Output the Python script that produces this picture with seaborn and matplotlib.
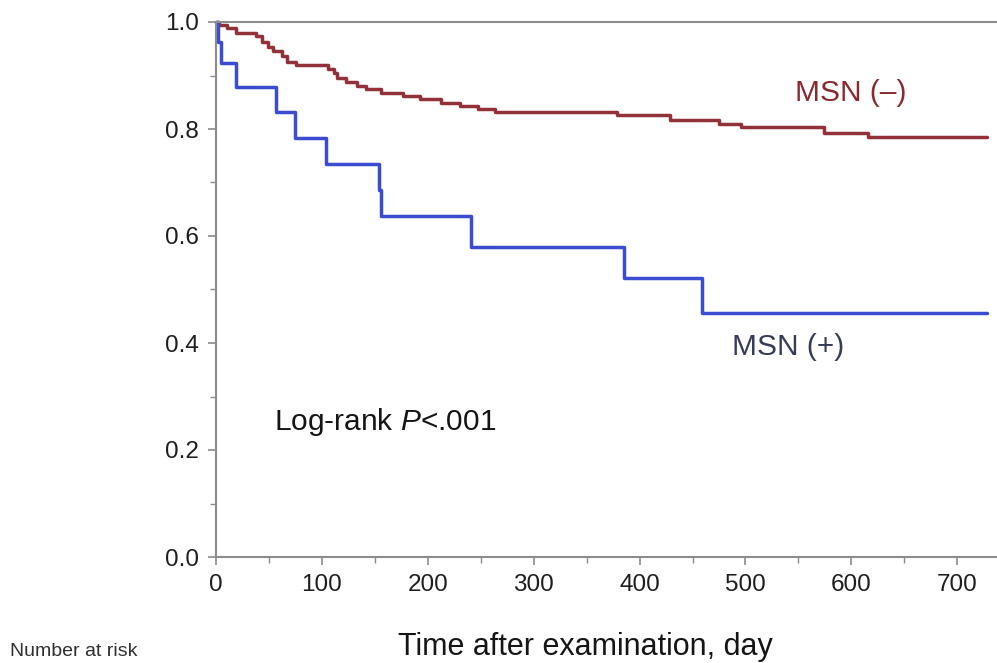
import numpy as np
import pandas as pd
import matplotlib
matplotlib.use("Agg")
import matplotlib.pyplot as plt
from matplotlib.ticker import MultipleLocator
import seaborn as sns

# Kaplan-Meier step points: (day, survival) at each event
msn_pos_days = [0, 2, 5, 19, 57, 75, 104, 154, 156, 241, 385, 459, 728]
msn_pos_surv = [1.0, 0.963, 0.923, 0.879, 0.832, 0.784, 0.735, 0.686, 0.637,
                0.580, 0.522, 0.457, 0.457]

msn_neg_days = [0, 3, 10, 19, 38, 43, 49, 54, 62, 67, 76, 106, 111, 114, 123,
                133, 142, 156, 177, 193, 212, 230, 247, 263, 379, 429, 475,
                496, 574, 616, 728]
msn_neg_surv = [1.0, 0.994, 0.988, 0.979, 0.973, 0.963, 0.954, 0.945, 0.936,
                0.926, 0.920, 0.913, 0.904, 0.895, 0.887, 0.880, 0.874, 0.868,
                0.862, 0.856, 0.849, 0.843, 0.838, 0.832, 0.826, 0.816, 0.810,
                0.803, 0.793, 0.785, 0.785]

group_labels = ["MSN (–)", "MSN (+)"]
x_ticks = [0, 100, 200, 300, 400, 500, 600, 700]
y_ticks = [0.0, 0.2, 0.4, 0.6, 0.8, 1.0]

sns.set_theme(style="ticks")
plt.rcParams["font.family"] = ["Liberation Sans", "DejaVu Sans"]
plt.rcParams["mathtext.fontset"] = "custom"
plt.rcParams["mathtext.it"] = "Liberation Sans:italic"
plt.rcParams["mathtext.rm"] = "Liberation Sans"

df = pd.concat([
    pd.DataFrame({"day": msn_neg_days, "surv": msn_neg_surv, "group": group_labels[0]}),
    pd.DataFrame({"day": msn_pos_days, "surv": msn_pos_surv, "group": group_labels[1]}),
])

red = "#92313a"
blue = "#3b4bd2"

fig = plt.figure(figsize=(9.97, 6.63), dpi=100)
ax = fig.add_axes([216 / 997, 1 - 557 / 663, 1 - 216 / 997, (557 - 22) / 663])

sns.lineplot(data=df, x="day", y="surv", hue="group",
             palette={group_labels[0]: red, group_labels[1]: blue},
             estimator=None, sort=False, drawstyle="steps-post",
             linewidth=2.5, legend=False, ax=ax, clip_on=False)

ax.set_xlim(0, 737.5)
ax.set_ylim(0, 1.0)
ax.set_xticks(x_ticks)
ax.set_yticks(y_ticks)
ax.set_yticklabels([f"{v:.1f}" for v in y_ticks])
ax.xaxis.set_minor_locator(MultipleLocator(50))
ax.yaxis.set_minor_locator(MultipleLocator(0.1))

spine_col = "#8c8c8c"
for side in ["left", "bottom", "top"]:
    ax.spines[side].set_color(spine_col)
    ax.spines[side].set_linewidth(1.5)
ax.spines["right"].set_visible(False)
ax.tick_params(axis="both", which="major", length=5.5, width=1.2, color=spine_col,
               labelsize=17.5, labelcolor="#1e1e1e", pad=7)
ax.tick_params(axis="both", which="minor", length=4, width=1.0, color=spine_col)
ax.tick_params(axis="x", which="both", top=False)
ax.set_xlabel("")
ax.set_ylabel("")

ax.text(599, 0.868, group_labels[0], color="#8a2a30", fontsize=21.5,
        ha="center", va="center")
ax.text(540, 0.392, group_labels[1], color="#363b58", fontsize=21.5,
        ha="center", va="center")
ax.text(55, 0.253, r"Log-rank $P$<.001", color="#151515", fontsize=21.5,
        ha="left", va="center")

fig.text(585 / 997, 1 - 655 / 663, "Time after examination, day",
         fontsize=22, color="#151515", ha="center", va="baseline")
fig.text(10 / 997, 3 / 663, "Number at risk", fontsize=14,
         color="#303030", ha="left", va="bottom")

fig.savefig("out.png", dpi=100, facecolor="white")
